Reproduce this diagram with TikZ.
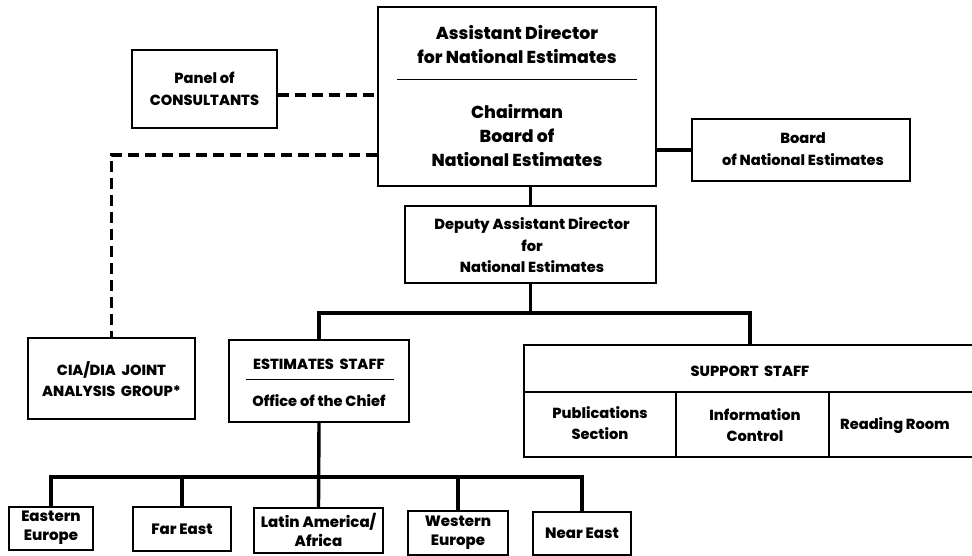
\documentclass[tikz,border=0pt]{standalone}
\usepackage{fontspec}
\setmainfont{Poppins}[BoldFont={Poppins ExtraBold}]
\usetikzlibrary{calc}
\tikzset{
  box/.style={draw, line width=1.6pt, rectangle, inner sep=0pt},
  conn/.style={line width=3.4pt},
  dconn/.style={line width=3.4pt, dash pattern=on 11pt off 6pt},
  divline/.style={line width=1.1pt},
  big/.style={align=center, inner sep=0pt, font=\bfseries\fontsize{17.3}{24}\selectfont},
  mid/.style={align=center, inner sep=0pt, font=\bfseries\fontsize{14.6}{21.5}\selectfont},
  sml/.style={align=center, inner sep=0pt, font=\bfseries\fontsize{15}{19}\selectfont},
}
\begin{document}
\begin{tikzpicture}[x=1pt,y=-1pt]
\useasboundingbox (0,0) rectangle (972,556);
% boxes
\node[box, minimum width=278pt, minimum height=179pt] (ad) at (517,96.5) {};
\node[box, minimum width=145pt, minimum height=78pt] (panel) at (204.5,89) {};
\node[box, minimum width=218pt, minimum height=62pt] (board) at (801,150) {};
\node[box, minimum width=251pt, minimum height=77pt] (dep) at (530.5,244.5) {};
\node[box, minimum width=167pt, minimum height=81pt] (cia) at (111.5,378.5) {};
\node[box, minimum width=180pt, minimum height=82pt] (est) at (319,381) {};
\node[box, minimum width=452pt, minimum height=47pt] (suph) at (750,368.5) {};
\node[box, minimum width=152pt, minimum height=65pt] (pub) at (600,424.5) {};
\node[box, minimum width=153pt, minimum height=65pt] (info) at (752.5,424.5) {};
\node[box, minimum width=147pt, minimum height=65pt] (read) at (902.5,424.5) {};
\node[box, minimum width=84pt, minimum height=43pt] (ee) at (51,528.5) {};
\node[box, minimum width=98pt, minimum height=44pt] (fe) at (182,529) {};
\node[box, minimum width=129pt, minimum height=45pt] (la) at (318.5,530.5) {};
\node[box, minimum width=100pt, minimum height=44pt] (we) at (458,533) {};
\node[box, minimum width=98pt, minimum height=43pt] (ne) at (582,533.5) {};
% texts
\node[big] (adt1) at (517,45) {Assistant Director\\for National Estimates};
\draw[divline] ($(ad.north west)+(20,73)$) coordinate (adl1) -- ($(ad.north east)+(-20,73)$) coordinate (adl2);
\node[big] (adt2) at (517,136) {Chairman\\Board of\\National Estimates};
\node[mid] (panelt) at (204.5,89) {Panel of\\CONSULTANTS};
\node[mid] (boardt) at (803,149) {Board\\of National Estimates};
\node[mid] (dept) at (532,245.5) {Deputy Assistant Director\\for\\National Estimates};
\node[mid] (ciat) at (111.5,379) {CIA/DIA\ \ JOINT\\ANALYSIS\ \ GROUP*};
\node[mid] (estt1) at (319,364) {ESTIMATES\ \ STAFF};
\draw[divline] ($(est.north west)+(18,40)$) coordinate (esl1) -- ($(est.north east)+(-16,40)$) coordinate (esl2);
\node[mid] (estt2) at (319,401) {Office of the Chief};
\node[mid] (supt) at (750,371) {SUPPORT\ \ STAFF};
\node[mid] (pubt) at (600,423) {Publications\\Section};
\node[mid] (infot) at (755,425) {Information\\Control};
\node[mid] (readt) at (895,426) {Reading Room};
\node[sml] (eet) at (51,528) {Eastern\\Europe};
\node[sml] (fet) at (182,529) {Far East};
\node[sml] (lat) at (318.5,530) {Latin America/\\Africa};
\node[sml] (wet) at (458,533) {Western\\Europe};
\node[sml] (net) at (582,533.5) {Near East};
% connectors
\draw[dconn] ($(panel.east)+(0,6)$) -- ($(ad.west |- panel.east)+(0,6)$);
\draw[dconn] ($(ad.west)+(0,58.5)$) -| (cia.north);
\draw[conn] (board.west) -- (board.west -| ad.east);
\draw[conn] (dep.north) -- (dep.north |- ad.south);
\coordinate (j1) at (530.5,313);
\draw[conn] (dep.south) -- (j1);
\draw[conn] (est.north) |- (j1) -| (suph.north);
\coordinate (j2) at (318.5,477);
\draw[conn] (est.south) -- (la.north);
\draw[conn] (ee.north) |- (j2) -| (ne.north);
\draw[conn] (fe.north) -- (fe.north |- j2);
\draw[conn] (we.north) -- (we.north |- j2);
\end{tikzpicture}
\end{document}
